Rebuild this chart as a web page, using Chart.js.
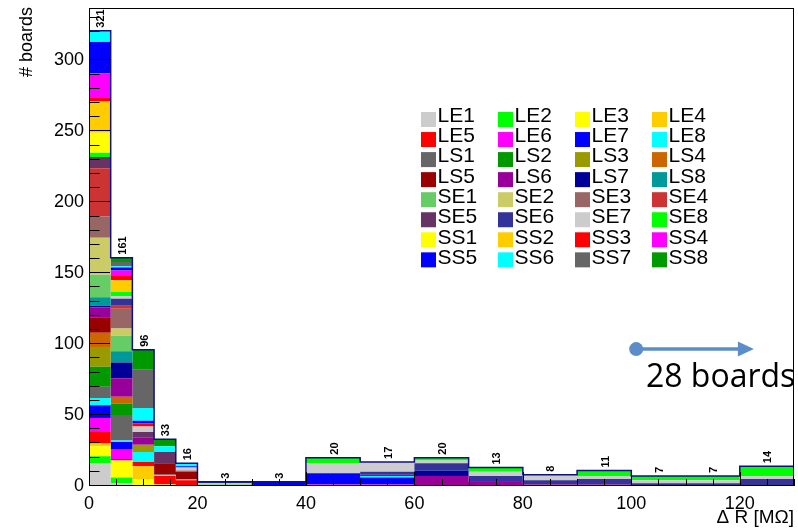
<!DOCTYPE html>
<html><head><meta charset="utf-8">
<script src="https://cdn.jsdelivr.net/npm/chart.js@4.4.1/dist/chart.umd.min.js"></script>
<style>html,body{margin:0;padding:0;background:#fff;}#wrap{width:798px;height:529px;}</style>
</head><body><div id="wrap"><canvas id="c" width="798" height="529"></canvas></div>
<script>
// ---- data ----
const binEdges = [0,4,8,12,16,20,30,40,50,60,70,80,90,100,110,120,130];
const seriesNames = ['LE1','LE2','LE3','LE4','LE5','LE6','LE7','LE8',
                     'LS1','LS2','LS3','LS4','LS5','LS6','LS7','LS8',
                     'SE1','SE2','SE3','SE4','SE5','SE6','SE7','SE8',
                     'SS1','SS2','SS3','SS4','SS5','SS6','SS7','SS8'];
const seriesColors = ['#cccccc','#00ff00','#ffff00','#ffcc00','#ff0000','#ff00ff','#0000ff','#00ffff',
                      '#666666','#009900','#999900','#cc6600','#990000','#990099','#000099','#009999',
                      '#66cc66','#cccc66','#996666','#cc3333','#663366','#333399','#cccccc','#00ff00',
                      '#ffff00','#ffcc00','#ff0000','#ff00ff','#0000ff','#00ffff','#666666','#009900'];
// counts per bin (16 bins)
const LE1 = [16,2,0,0,0,0,0,0,0,0,0,0,0,0,0,0];
const LE2 = [5,4,0,0,0,0,0,0,0,0,0,0,0,0,0,0];
const LE3 = [7,12,5,1,0,0,0,0,0,0,0,0,0,0,0,0];
const LE4 = [2,0,9,0,0,0,0,0,0,0,0,0,0,0,0,0];
const LE5 = [8,1,3,6,4,0,0,0,0,0,0,0,0,0,0,0];
const LE6 = [10,7,0,0,0,0,0,1,1,0,0,0,0,0,0,0];
const LE7 = [9,5,0,0,0,0,3,8,5,0,0,0,0,0,0,0];
const LE8 = [5,1,7,1,1,0,0,0,1,0,0,0,0,0,0,0];
const LS1 = [8,18,0,0,0,0,0,0,0,0,0,0,0,0,0,0];
const LS2 = [14,8,0,0,0,0,0,0,0,0,0,0,0,0,0,0];
const LS3 = [14,0,5,0,0,0,0,0,0,0,0,0,0,0,0,0];
const LS4 = [10,5,0,0,0,0,0,0,0,0,0,0,0,0,0,0];
const LS5 = [11,0,0,8,5,0,0,0,0,0,0,0,0,0,0,0];
const LS6 = [7,13,5,0,0,0,0,0,1,7,3,1,1,0,0,0];
const LS7 = [1,11,0,0,0,0,0,0,0,4,1,0,0,0,0,0];
const LS8 = [6,8,0,0,0,0,0,0,0,0,0,0,0,0,0,0];
const SE1 = [16,11,0,0,0,1,0,0,0,0,0,0,0,0,0,0];
const SE2 = [26,5,0,0,0,1,0,0,0,0,0,0,0,0,0,0];
const SE3 = [15,14,0,0,1,0,0,0,0,0,0,0,0,0,0,0];
const SE4 = [34,2,0,0,0,0,0,0,0,0,0,0,0,0,0,0];
const SE5 = [8,0,4,8,0,0,0,0,0,0,0,0,0,0,0,0];
const SE6 = [0,5,0,0,0,1,0,0,2,5,3,3,4,2,2,5];
const SE7 = [0,2,4,0,2,0,0,7,7,2,3,4,2,2,2,2];
const SE8 = [3,3,0,0,0,0,0,4,0,2,3,0,4,3,3,7];
const SS1 = [14,0,0,0,0,0,0,0,0,0,0,0,0,0,0,0];
const SS2 = [22,8,0,0,0,0,0,0,0,0,0,0,0,0,0,0];
const SS3 = [3,3,2,0,0,0,0,0,0,0,0,0,0,0,0,0];
const SS4 = [17,4,0,0,0,0,0,0,0,0,0,0,0,0,0,0];
const SS5 = [22,2,2,0,1,0,0,0,0,0,0,0,0,0,0,0];
const SS6 = [8,1,9,4,2,0,0,0,0,0,0,0,0,0,0,0];
const SS7 = [0,3,27,0,0,0,0,0,0,0,0,0,0,0,0,0];
const SS8 = [0,3,14,5,0,0,0,0,0,0,0,0,0,0,0,0];
const seriesValues = [LE1,LE2,LE3,LE4,LE5,LE6,LE7,LE8,LS1,LS2,LS3,LS4,LS5,LS6,LS7,LS8,
                      SE1,SE2,SE3,SE4,SE5,SE6,SE7,SE8,SS1,SS2,SS3,SS4,SS5,SS6,SS7,SS8];
const xTickLabels = [0,20,40,60,80,100,120];
const yTickLabels = [0,50,100,150,200,250,300];
const xTitle = 'Δ R [MΩ]';
const yTitle = '# boards';
const noteText = '28 boards';
const arrowStart = {x: 100.9, y: 96.5};
const arrowEnd = {x: 122.6, y: 96.5};
const notePos = {x: 102.7, y: 69.8};

// ---- build ----
const nBins = binEdges.length - 1;
const stepPoints = vals => binEdges.map((x, i) => ({x, y: vals[Math.min(i, nBins - 1)]}));
const totals = binEdges.slice(0, -1).map((_, b) => seriesValues.reduce((s, v) => s + v[b], 0));
const FONT = '"Liberation Sans", Arial, Helvetica, sans-serif';

const datasets = seriesValues.map((vals, k) => ({
  label: seriesNames[k], data: stepPoints(vals), backgroundColor: seriesColors[k],
  borderColor: 'rgba(0,0,0,0)', borderWidth: 0, pointRadius: 0, stepped: true,
  fill: k === 0 ? 'origin' : '-1', stack: 'boards', order: 1
}));
datasets.push({
  label: 'total', data: [{x: binEdges[0], y: 0}, ...stepPoints(totals), {x: binEdges[nBins], y: 0}],
  borderColor: '#101080', borderWidth: 1.5, fill: false, pointRadius: 0, stepped: true,
  stack: 'outline', order: 0
});

const decor = {
  id: 'decor',
  afterDatasetsDraw(chart) {
    const {ctx, chartArea: a, scales: {x, y}} = chart;
    ctx.save();
    // bin totals
    ctx.font = 'bold 11px ' + FONT;
    ctx.fillStyle = '#000'; ctx.textAlign = 'left'; ctx.textBaseline = 'middle';
    totals.forEach((t, b) => {
      const cx = x.getPixelForValue((binEdges[b] + binEdges[b + 1]) / 2) + 1.5;
      const ty = y.getPixelForValue(t) - 3;
      ctx.save(); ctx.translate(cx, ty); ctx.rotate(-Math.PI / 2); ctx.fillText(String(t), 0, 0); ctx.restore();
    });
    // ticks (inside, ROOT style)
    ctx.strokeStyle = '#000'; ctx.lineWidth = 1;
    ctx.beginPath();
    for (let v = 0; v <= y.max; v += 10) {
      const py = Math.round(y.getPixelForValue(v)) - 0.5;
      const len = v % 50 === 0 ? 21 : 10.5;
      ctx.moveTo(a.left, py); ctx.lineTo(a.left + len, py);
    }
    for (let v = 0; v <= x.max; v += 5) {
      const px = Math.round(x.getPixelForValue(v)) + 0.5;
      const len = v % 20 === 0 ? 14 : 7;
      ctx.moveTo(px, a.bottom); ctx.lineTo(px, a.bottom - len);
    }
    ctx.stroke();
    ctx.strokeRect(a.left + 0.5, a.top + 0.5, a.right - a.left - 1, a.bottom - a.top - 1);
    // y axis title (ROOT: right-aligned at the top of the axis)
    ctx.save();
    ctx.font = '18px ' + FONT; ctx.textAlign = 'right'; ctx.textBaseline = 'middle';
    ctx.translate(27, a.top - 1); ctx.rotate(-Math.PI / 2); ctx.fillText(yTitle, 0, 0);
    ctx.restore();
    // legend
    ctx.font = '21px ' + FONT; ctx.textBaseline = 'alphabetic'; ctx.textAlign = 'left';
    seriesNames.forEach((n, k) => {
      const col = k % 4, row = Math.floor(k / 4);
      const bx = 421 + col * 77, by = 112 + row * 20.05;
      ctx.fillStyle = seriesColors[k]; ctx.fillRect(bx, by, 15, 15);
      ctx.fillStyle = '#000'; ctx.fillText(n, bx + 16.5, 121.7 + row * 20.3);
    });
    // arrow annotation
    const sx = x.getPixelForValue(arrowStart.x), sy = y.getPixelForValue(arrowStart.y);
    const ex = x.getPixelForValue(arrowEnd.x), ey = y.getPixelForValue(arrowEnd.y);
    ctx.fillStyle = '#5b8ec8'; ctx.strokeStyle = '#5b8ec8';
    ctx.beginPath(); ctx.arc(sx, sy, 7, 0, Math.PI * 2); ctx.fill();
    ctx.lineWidth = 3.5; ctx.beginPath(); ctx.moveTo(sx, sy); ctx.lineTo(ex - 14, ey); ctx.stroke();
    ctx.beginPath(); ctx.moveTo(ex, ey); ctx.lineTo(ex - 16, ey - 7.5); ctx.lineTo(ex - 16, ey + 7.5); ctx.closePath(); ctx.fill();
    ctx.fillStyle = '#000'; ctx.font = '32px "Open Sans", sans-serif'; ctx.textAlign = 'left';
    ctx.fillText(noteText, x.getPixelForValue(notePos.x), y.getPixelForValue(notePos.y));
    ctx.restore();
  }
};

new Chart(document.getElementById('c'), {
  type: 'line',
  data: {datasets},
  plugins: [decor],
  options: {
    responsive: false, animation: false, devicePixelRatio: 1,
    layout: {padding: {top: 8, right: 4, left: 0, bottom: 0}},
    plugins: {legend: {display: false}, tooltip: {enabled: false}, title: {display: false}},
    scales: {
      x: {
        type: 'linear', min: 0, max: 130,
        grid: {display: false, drawTicks: false}, border: {display: false},
        ticks: {stepSize: 20, includeBounds: false, autoSkip: false, maxRotation: 0, padding: 7,
                color: '#000', font: {family: FONT, size: 18},
                callback: v => xTickLabels.includes(v) ? String(v) : ''},
        title: {display: true, text: xTitle, align: 'end', color: '#000', font: {family: FONT, size: 19}, padding: 0},
        afterFit: s => { s.height = 43; s.paddingLeft = 0; s.paddingRight = 0; }
      },
      y: {
        type: 'linear', stacked: true, min: 0, max: 337,
        grid: {display: false, drawTicks: false}, border: {display: false},
        ticks: {stepSize: 50, includeBounds: false, padding: 5, color: '#000', font: {family: FONT, size: 18},
                callback: v => yTickLabels.includes(v) ? String(v) : ''},
        title: {display: false, text: yTitle},
        afterFit: s => { s.width = 89; s.paddingTop = 0; s.paddingBottom = 0; }
      }
    }
  }
});
</script></body></html>
